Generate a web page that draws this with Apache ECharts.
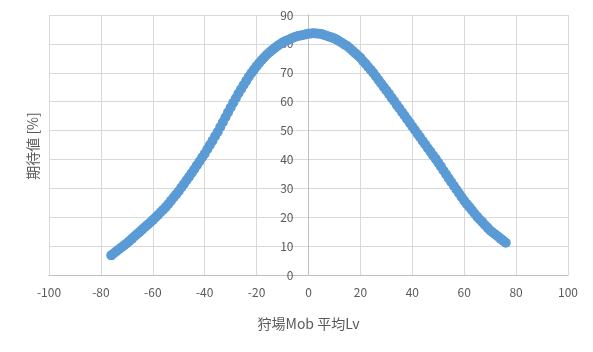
<!DOCTYPE html>
<html>
<head>
<meta charset="utf-8">
<script src="https://cdn.jsdelivr.net/npm/echarts@6/dist/echarts.min.js"></script>
<style>
  html, body { margin: 0; padding: 0; background: #fff; }
  #chart { width: 593px; height: 352px; }
</style>
</head>
<body>
<div id="chart"></div>
<script>
// 狩場Mob 平均Lv (x)
const levels = [
  -76, -75, -74, -73, -72, -71, -70, -69, -68, -67, -66, -65, -64, -63, -62, -61,
  -60, -59, -58, -57, -56, -55, -54, -53, -52, -51, -50, -49, -48, -47, -46, -45,
  -44, -43, -42, -41, -40, -39, -38, -37, -36, -35, -34, -33, -32, -31, -30, -29,
  -28, -27, -26, -25, -24, -23, -22, -21, -20, -19, -18, -17, -16, -15, -14, -13,
  -12, -11, -10, -9, -8, -7, -6, -5, -4, -3, -2, -1, 0, 1, 2, 3,
  4, 5, 6, 7, 8, 9, 10, 11, 12, 13, 14, 15, 16, 17, 18, 19,
  20, 21, 22, 23, 24, 25, 26, 27, 28, 29, 30, 31, 32, 33, 34, 35,
  36, 37, 38, 39, 40, 41, 42, 43, 44, 45, 46, 47, 48, 49, 50, 51,
  52, 53, 54, 55, 56, 57, 58, 59, 60, 61, 62, 63, 64, 65, 66, 67,
  68, 69, 70, 71, 72, 73, 74, 75, 76
]
// 期待値 [%] (y)
const expected = [
  6.8, 7.5, 8.2, 8.9, 9.6, 10.3, 11.0, 11.8, 12.6, 13.4, 14.2, 15.0, 15.8, 16.6, 17.4, 18.2,
  19.0, 19.9, 20.8, 21.7, 22.6, 23.5, 24.6, 25.7, 26.8, 27.9, 29.0, 30.3, 31.5, 32.8, 34.0, 35.3,
  36.6, 38.0, 39.3, 40.7, 42.0, 43.5, 45.0, 46.5, 48.0, 49.5, 51.2, 52.9, 54.6, 56.3, 58.0, 59.6,
  61.2, 62.8, 64.3, 65.8, 67.2, 68.6, 69.9, 71.1, 72.3, 73.4, 74.4, 75.4, 76.3, 77.1, 77.9, 78.6,
  79.3, 79.9, 80.5, 80.9, 81.3, 81.7, 82.1, 82.5, 82.7, 82.9, 83.1, 83.3, 83.5, 83.6, 83.7, 83.6,
  83.5, 83.4, 83.1, 82.8, 82.5, 82.2, 81.9, 81.4, 80.8, 80.3, 79.7, 79.2, 78.4, 77.6, 76.8, 76.0,
  75.2, 74.1, 73.1, 72.0, 71.0, 69.9, 68.7, 67.5, 66.3, 65.1, 63.9, 62.7, 61.4, 60.2, 58.9, 57.7,
  56.4, 55.2, 53.9, 52.7, 51.4, 50.2, 48.9, 47.7, 46.4, 45.2, 43.9, 42.7, 41.4, 40.2, 38.9, 37.6,
  36.2, 34.9, 33.5, 32.2, 30.9, 29.6, 28.3, 27.0, 25.7, 24.6, 23.5, 22.4, 21.3, 20.2, 19.2, 18.3,
  17.3, 16.4, 15.4, 14.7, 14.0, 13.3, 12.6, 11.9, 11.2
]
const xTicks = { min: -100, max: 100, step: 20 }
const yTicks = { min: 0, max: 90, step: 10 }

const font = '"Noto Sans CJK JP", "Noto Sans", sans-serif'
const gridLeft = 49, gridRight = 25
const plotWidth = 593 - gridLeft - gridRight
// y軸をx=0の位置に移動
const yAxisShift = -plotWidth * (0 - xTicks.min) / (xTicks.max - xTicks.min)

let myChart = echarts.init(document.getElementById('chart'), null, { renderer: 'canvas' })
let option = {
  animation: false,
  textStyle: { fontFamily: font },
  grid: { left: gridLeft, right: gridRight, top: 15, bottom: 77 },
  xAxis: {
    type: 'value',
    min: xTicks.min,
    max: xTicks.max,
    interval: xTicks.step,
    name: '狩場Mob 平均Lv',
    nameLocation: 'middle',
    nameGap: 42,
    nameTextStyle: { color: '#595959', fontSize: 14, fontFamily: font },
    axisLine: { show: true, onZero: false, lineStyle: { color: '#bfbfbf', width: 1 } },
    axisTick: { show: false },
    axisLabel: { color: '#595959', fontSize: 12, margin: 11, fontFamily: font },
    splitLine: { show: true, lineStyle: { color: '#d9d9d9', width: 1 } }
  },
  yAxis: {
    type: 'value',
    min: yTicks.min,
    max: yTicks.max,
    interval: yTicks.step,
    offset: yAxisShift,
    axisLine: { show: true, onZero: false, lineStyle: { color: '#bfbfbf', width: 1 } },
    axisTick: { show: false },
    axisLabel: { color: '#595959', fontSize: 12, margin: 15, fontFamily: font },
    splitLine: { show: true, lineStyle: { color: '#d9d9d9', width: 1 } }
  },
  graphic: [{
    type: 'text',
    rotation: Math.PI / 2,
    x: 33,
    y: 146,
    style: {
      text: '期待値 [%]',
      fill: '#595959',
      font: '14px ' + font,
      textAlign: 'center',
      textVerticalAlign: 'middle'
    }
  }],
  series: [{
    type: 'scatter',
    symbol: 'circle',
    symbolSize: 10,
    z: 5,
    itemStyle: { color: '#5b9bd5', opacity: 1 },
    data: levels.map((lv, i) => [lv, expected[i]])
  }]
}
myChart.setOption(option)
window.addEventListener('resize', () => { myChart.resize() })
</script>
</body>
</html>
